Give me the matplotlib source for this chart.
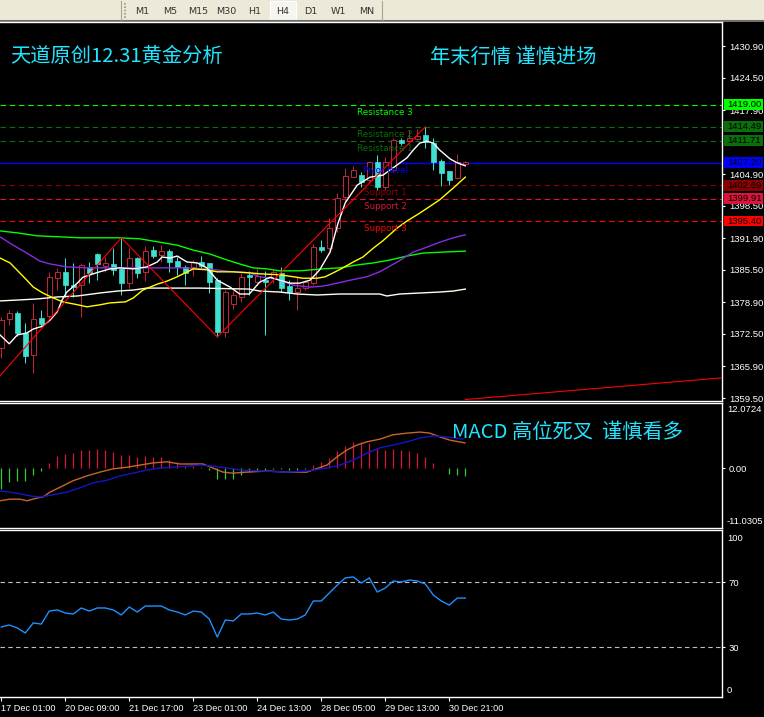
import matplotlib
matplotlib.use('Agg')
import matplotlib.pyplot as plt
from matplotlib.patches import Rectangle
from matplotlib.transforms import blended_transform_factory as btf

# ---------------- data ----------------
opens = [1369.6, 1375.5, 1376.7, 1372.7, 1368.2, 1375.7, 1376.1, 1383.8, 1385.1, 1382.4,
         1382.4, 1386.1, 1388.7, 1386.3, 1386.7, 1385.7, 1382.8, 1387.9, 1385.1, 1389.5,
         1388.5, 1389.3, 1387.3, 1386.1, 1386.1, 1387.1, 1386.9, 1383.4, 1372.9, 1378.6,
         1380.0, 1384.5, 1383.0, 1383.4, 1383.8, 1384.9, 1382.2, 1381.0, 1381.8, 1382.8,
         1390.1, 1389.9, 1394.0, 1400.3, 1404.3, 1404.7, 1403.7, 1407.4, 1402.3, 1405.7,
         1411.8, 1411.6, 1412.0, 1412.8, 1411.2, 1407.6, 1405.5, 1404.1, 1407.0]
highs = [1375.9, 1377.3, 1377.1, 1374.7, 1378.8, 1377.3, 1385.1, 1385.9, 1387.9, 1386.9,
         1386.9, 1387.1, 1388.9, 1388.1, 1390.0, 1392.0, 1390.0, 1388.1, 1390.3, 1390.3,
         1390.5, 1389.7, 1388.1, 1386.5, 1387.5, 1388.3, 1386.9, 1383.8, 1381.4, 1381.2,
         1384.9, 1385.3, 1385.9, 1385.3, 1385.5, 1386.1, 1383.4, 1384.0, 1383.4, 1390.7,
         1391.6, 1396.0, 1401.1, 1406.2, 1406.6, 1405.3, 1407.6, 1408.8, 1408.4, 1412.2,
         1412.2, 1413.9, 1414.1, 1414.5, 1412.2, 1408.0, 1405.5, 1409.0, 1407.6]
lows = [1367.6, 1374.3, 1372.1, 1366.6, 1364.6, 1373.9, 1375.7, 1381.4, 1380.0, 1380.0,
        1375.9, 1382.8, 1383.4, 1385.1, 1384.5, 1380.4, 1381.8, 1383.8, 1383.2, 1387.9,
        1387.1, 1385.1, 1384.5, 1382.4, 1384.3, 1385.9, 1380.8, 1371.9, 1371.9, 1377.6,
        1379.0, 1380.4, 1382.4, 1372.3, 1382.8, 1381.0, 1379.4, 1377.3, 1381.4, 1382.4,
        1389.1, 1389.5, 1393.2, 1399.3, 1404.3, 1402.3, 1403.1, 1401.7, 1401.7, 1405.3,
        1410.8, 1411.2, 1411.8, 1410.2, 1405.7, 1402.5, 1402.7, 1403.9, 1406.8]
closes = [1375.3, 1376.7, 1372.7, 1368.0, 1375.5, 1374.5, 1384.0, 1385.1, 1382.4, 1382.0,
          1386.5, 1384.9, 1386.7, 1386.9, 1385.5, 1382.8, 1387.9, 1384.9, 1389.3, 1388.3,
          1389.3, 1387.1, 1386.1, 1384.9, 1387.1, 1386.3, 1383.0, 1372.9, 1381.0, 1380.4,
          1384.0, 1384.0, 1384.3, 1383.0, 1385.1, 1381.8, 1381.0, 1381.8, 1383.0, 1390.1,
          1389.5, 1394.0, 1400.1, 1404.5, 1405.7, 1403.3, 1407.4, 1402.3, 1407.4, 1411.8,
          1411.2, 1412.2, 1412.6, 1411.4, 1407.4, 1405.1, 1403.7, 1407.4, 1407.4]

# moving averages (bar position, price)
ma_fast_bars = [-0.16, 1.0, 2.0, 3.2, 4.0, 5.2, 6.1, 7.0, 7.6, 8.2, 9.5, 10.2, 11.5, 12.3, 13.6,
                14.8, 16.5, 18.2, 19.5, 20.1, 21.1, 22.0, 23.2, 24.5, 25.7, 27.0, 28.6, 29.8,
                31.0, 32.3, 33.6, 34.8, 36.1, 37.3, 38.6, 39.8, 41.1, 42.1, 43.0, 44.5, 46.1,
                47.7, 49.5, 50.7, 51.5, 52.3, 53.2, 54.0, 54.8, 56.1, 57.0, 58.0]
ma_fast = [1372.3, 1370.5, 1372.3, 1372.7, 1373.5, 1374.1, 1375.3, 1377.0, 1379.4, 1381.0,
           1382.8, 1384.0, 1384.7, 1385.1, 1385.7, 1385.9, 1385.7, 1386.1, 1387.1, 1388.1,
           1387.9, 1388.3, 1387.1, 1386.9, 1385.9, 1383.4, 1382.0, 1380.6, 1380.6, 1383.0,
           1384.0, 1383.4, 1382.8, 1382.8, 1383.4, 1385.5, 1389.1, 1395.0, 1399.1, 1402.7,
           1404.3, 1404.7, 1406.8, 1408.2, 1409.8, 1411.2, 1411.6, 1411.2, 1409.8, 1408.0,
           1407.2, 1406.6]
ma_yellow_bars = [-0.16, 1.1, 2.3, 3.2, 4.0, 5.2, 6.5, 7.7, 9.6, 10.7, 12.3, 13.6, 15.5, 16.5,
                  17.7, 19.5, 20.7, 22.0, 23.0, 24.0, 25.7, 27.0, 29.0, 31.0, 32.3, 34.8, 36.5,
                  37.7, 39.5, 40.5, 41.5, 42.7, 44.0, 45.2, 46.5, 47.7, 49.5, 50.7, 52.3, 54.8,
                  56.5, 58.0]
ma_yellow = [1387.9, 1386.9, 1384.9, 1383.4, 1382.0, 1380.8, 1379.8, 1379.0, 1378.4, 1378.0,
             1378.4, 1378.8, 1379.0, 1379.8, 1381.4, 1382.6, 1383.2, 1384.1, 1384.9, 1385.7,
             1385.5, 1385.1, 1385.1, 1384.9, 1384.7, 1384.5, 1384.1, 1383.8, 1383.8, 1384.1,
             1384.9, 1385.9, 1387.1, 1388.1, 1389.9, 1391.4, 1394.0, 1395.4, 1397.0, 1399.7,
             1402.1, 1404.3]
ma_purple_bars = [-0.16, 1.5, 3.2, 4.8, 6.1, 8.2, 10.7, 14.5, 18.6, 22.7, 25.7, 29.0, 31.0,
                  32.3, 34.5, 36.5, 38.6, 40.2, 42.0, 43.6, 45.7, 47.3, 49.5, 51.5, 53.2, 54.8,
                  56.5, 58.0]
ma_purple = [1392.2, 1390.5, 1388.9, 1387.3, 1386.7, 1386.1, 1385.9, 1385.9, 1385.9, 1385.9,
             1385.7, 1385.1, 1384.9, 1384.1, 1383.6, 1382.4, 1382.0, 1382.2, 1382.8, 1383.4,
             1384.1, 1385.1, 1387.1, 1389.1, 1390.1, 1391.1, 1392.0, 1392.6]
ma_green_bars = [-0.16, 2.0, 4.5, 7.3, 9.8, 14.8, 17.3, 19.5, 22.0, 24.0, 26.1, 28.2, 29.8,
                 31.5, 33.2, 34.8, 37.3, 40.2, 42.3, 44.5, 46.5, 48.6, 50.7, 52.7, 55.2, 58.0]
ma_green = [1393.4, 1393.0, 1392.4, 1392.2, 1392.0, 1392.0, 1391.8, 1391.2, 1390.5, 1389.5,
            1388.7, 1387.5, 1386.7, 1385.9, 1385.7, 1385.3, 1385.3, 1385.7, 1385.9, 1386.5,
            1386.9, 1387.5, 1388.3, 1388.9, 1389.1, 1389.3]
ma_slow_bars = [-0.16, 2.3, 4.5, 7.0, 9.5, 12.3, 14.5, 16.5, 18.2, 24.8, 31.0, 32.3, 34.8, 37.0,
                39.5, 42.3, 47.3, 48.2, 49.8, 52.3, 54.8, 56.5, 58.0]
ma_slow = [1379.2, 1379.4, 1379.6, 1380.0, 1380.2, 1380.8, 1381.2, 1381.4, 1381.8, 1381.8,
           1381.6, 1381.2, 1381.0, 1380.6, 1380.4, 1380.6, 1380.6, 1380.2, 1380.6, 1380.8,
           1381.0, 1381.2, 1381.6]

zigzag_bars = [-2, 15, 27, 53]
zigzag_vals = [1360.6, 1392.0, 1371.9, 1414.5]
trend_bars = [58, 90.1]
trend_vals = [1359.2, 1363.6]

level_names = ['Resistance 3', 'Resistance 2', 'Resistance 1', 'Pivot level',
               'Support 1', 'Support 2', 'Support 3']
level_vals = [1419.00, 1414.49, 1411.71, 1407.20, 1402.69, 1399.91, 1395.40]
level_colors = ['#00FF00', '#0A6E0A', '#0A6E0A', '#0000FF', '#8B0000', '#DC143C', '#FF0000']
price_ticks = [1430.90, 1424.50, 1417.90, 1404.90, 1398.50, 1391.90,
               1385.50, 1378.90, 1372.50, 1365.90, 1359.50]

macd_hist = [-3.9, -2.6, -2.4, -2.4, -1.3, -0.56, 0.93, 2.2, 2.6, 2.8,
             3.35, 3.35, 3.5, 3.35, 3.0, 2.4, 2.4, 2.05, 2.2, 2.05,
             2.05, 1.5, 1.1, 0.37, 0.37, 0.2, -0.37, -1.9, -1.9, -1.9,
             -1.3, -0.75, -0.45, -0.4, -0.2, -0.2, -0.4, -0.4, -0.2, 0.56,
             1.1, 1.9, 3.2, 4.1, 4.8, 4.8, 4.65, 3.7, 3.35, 3.5,
             3.35, 3.2, 2.8, 2.05, 0.93, 0.0, -1.1, -1.3, -1.5]
macd_main_bars = [-0.16, 1.09, 2.34, 3.21, 4.46, 5.21, 6.09, 7.34, 8.96, 10.71, 12.34, 13.96,
                  15.71, 17.34, 18.96, 20.71, 22.34, 23.96, 25.21, 26.46, 27.71, 28.96, 30.71,
                  33.21, 35.71, 38.21, 38.96, 40.71, 41.96, 43.21, 44.46, 45.71, 47.34, 48.96,
                  50.71, 52.34, 53.59, 54.84, 56.09, 57.96]
macd_main = [-6.0, -5.7, -5.7, -6.0, -5.5, -5.3, -4.4, -3.5, -2.3, -1.4, -0.7, -0.1,
             0.2, 0.6, 1.0, 1.2, 0.8, 0.8, 0.8, 0.05, -0.7, -0.9, -0.7,
             -0.5, -0.7, -0.7, -0.3, 0.6, 2.1, 3.4, 4.3, 4.9, 5.4, 6.2,
             6.5, 6.7, 6.5, 5.8, 5.2, 4.7]
macd_sig_bars = [-0.16, 1.09, 2.34, 3.59, 4.84, 6.46, 8.21, 9.84, 11.46, 13.21, 14.84, 16.46,
                 18.21, 19.84, 21.46, 23.21, 24.84, 26.46, 28.21, 29.84, 32.34, 35.71, 38.21,
                 40.71, 42.34, 43.96, 45.71, 47.34, 48.96, 50.71, 52.34, 53.96, 55.71, 57.71]
macd_sig = [-4.2, -4.4, -4.7, -5.1, -5.3, -4.9, -4.4, -3.6, -2.7, -2.2, -1.4, -0.9,
            -0.3, 0.05, 0.2, 0.4, 0.6, 0.4, 0.05, -0.3, -0.5, -0.7, -0.5,
            0.05, 0.6, 1.5, 2.8, 3.8, 4.3, 4.9, 5.6, 6.0, 5.8, 5.4]

rsi = [42.5, 43.7, 41.9, 38.8, 45.0, 44.3, 52.3, 53.0, 51.1, 50.5,
       54.2, 52.3, 54.2, 54.2, 53.0, 49.9, 54.8, 51.7, 55.4, 55.4,
       55.4, 53.0, 51.7, 49.9, 52.3, 51.7, 47.4, 36.3, 46.8, 46.2,
       50.5, 50.5, 51.1, 49.9, 51.7, 47.4, 46.8, 47.4, 49.9, 58.5,
       58.5, 63.4, 68.3, 72.7, 73.3, 69.6, 72.7, 64.0, 66.5, 70.8,
       70.2, 71.4, 70.8, 69.0, 62.2, 58.5, 56.0, 60.3, 60.3]

date_labels = ['17 Dec 01:00', '20 Dec 09:00', '21 Dec 17:00', '23 Dec 01:00',
               '24 Dec 13:00', '28 Dec 05:00', '29 Dec 13:00', '30 Dec 21:00']
timeframes = ['M1', 'M5', 'M15', 'M30', 'H1', 'H4', 'D1', 'W1', 'MN']

title_left = '天道原创12.31黄金分析'
title_right = '年末行情 谨慎进场'
macd_note = 'MACD 高位死叉  谨慎看多'

# ---------------- layout helpers ----------------
W, H = 764, 717
fig = plt.figure(figsize=(W / 100, H / 100), dpi=100, facecolor='black')
CJK = ['Noto Sans CJK SC', 'DejaVu Sans']
NUMF = 'Liberation Sans'
TXTC = '#22E4FF'


def rect(x0, y0, x1, y1):
    return [x0 / W, 1 - y1 / H, (x1 - x0) / W, (y1 - y0) / H]


XMIN, XMAX = -0.16, 90.09


def style_panel(a):
    a.set_facecolor('black')
    a.set_xlim(XMIN, XMAX)
    a.spines['left'].set_visible(False)
    for s in ['top', 'bottom', 'right']:
        a.spines[s].set_color('white')
        a.spines[s].set_linewidth(1.0)
    a.set_xticks([])
    a.yaxis.tick_right()
    a.tick_params(axis='y', colors='white', length=2.5, width=0.8, pad=2.5,
                  labelsize=6.8, labelcolor='white')


# ---------------- toolbar ----------------
tb = fig.add_axes(rect(0, 0, W, 22))
tb.set_xlim(0, W)
tb.set_ylim(22, 0)
tb.axis('off')
tb.add_patch(Rectangle((0, 0), W, 22, facecolor='#ECE9D8', edgecolor='none'))
tb.plot([0, W], [21.3, 21.3], color='#6E6E6E', lw=1.5)
tb.plot([121, 121], [1, 20], color='#A8A595', lw=0.8)
tb.plot([382, 382], [1, 20], color='#A8A595', lw=0.8)
tb.plot([125, 125], [3, 18], color='#9A9784', lw=1.2, ls=(0, (1, 1)))
tb.add_patch(Rectangle((270, 1), 26, 19, facecolor='#F6F5EF', edgecolor='white', lw=0.8))
for i, lab in enumerate(timeframes):
    tb.text(142 + 28.05 * i, 11.5, lab, ha='center', va='center', fontsize=6.8,
            color='#333333', family='DejaVu Sans')

# ---------------- main price panel ----------------
ax = fig.add_axes(rect(0, 22, 722, 401))
style_panel(ax)
ax.set_ylim(1358.9, 1435.77)
ax.set_yticks(price_ticks)
ax.set_yticklabels(['%.2f' % v for v in price_ticks], fontfamily=NUMF)

UP = '#B8283A'
DN = '#40E0D0'
bw = 0.62
for i in range(len(opens)):
    o, h, l, c = opens[i], highs[i], lows[i], closes[i]
    if c >= o:
        ax.plot([i, i], [l, h], color=UP, lw=0.75, zorder=3, solid_capstyle='butt')
        ax.add_patch(Rectangle((i - bw / 2, o), bw, max(c - o, 0.15), facecolor='black',
                               edgecolor=UP, lw=0.75, zorder=3.1))
    else:
        ax.plot([i, i], [l, h], color=DN, lw=0.75, zorder=3, solid_capstyle='butt')
        ax.add_patch(Rectangle((i - bw / 2, c), bw, max(o - c, 0.15), facecolor=DN,
                               edgecolor=DN, lw=0.5, zorder=3.1))

ax.plot(ma_slow_bars, ma_slow, color='#FFFFF0', lw=1.0, zorder=4)
ax.plot(ma_green_bars, ma_green, color='#00FF00', lw=1.0, zorder=4)
ax.plot(ma_purple_bars, ma_purple, color='#8A2BE2', lw=1.0, zorder=4)
ax.plot(ma_yellow_bars, ma_yellow, color='#FFFF00', lw=1.0, zorder=4)
ax.plot(ma_fast_bars, ma_fast, color='white', lw=1.0, zorder=4)
ax.plot(zigzag_bars, zigzag_vals, color='#FF0000', lw=0.8, zorder=4)
ax.plot(trend_bars, trend_vals, color='#FF0000', lw=0.8, zorder=4)

ytr = btf(ax.transAxes, ax.transData)
for name, v, col in zip(level_names, level_vals, level_colors):
    if name == 'Pivot level':
        ax.axhline(v, color=col, lw=1.0, zorder=2)
    else:
        ax.axhline(v, color=col, lw=0.8, ls=(0, (5, 3.3)), zorder=2)
    ax.annotate(name, xy=(48, v), xytext=(0, -2.2), textcoords='offset points',
                ha='center', va='top', fontsize=6.3, color=col, family='DejaVu Sans', zorder=5)
    ax.add_patch(Rectangle((723.5 / 722, v - 1.1), 40 / 722, 2.2, transform=ytr,
                           facecolor=col, edgecolor='none', clip_on=False, zorder=10))
    ax.text(727 / 722, v, '%.2f' % v, transform=ytr, ha='left', va='center', fontsize=6.8,
            family=NUMF, color='black', clip_on=False, zorder=11)

fig.text(10 / W, 1 - 57 / H, title_left, ha='left', va='center', fontsize=14.6,
         color=TXTC, family=CJK)
fig.text(430 / W, 1 - 57 / H, title_right, ha='left', va='center', fontsize=14.6,
         color=TXTC, family=CJK)

# ---------------- MACD panel ----------------
am = fig.add_axes(rect(0, 403, 722, 528))
style_panel(am)
am.set_ylim(-11.0305, 12.0724)
am.set_yticks([0.0])
am.set_yticklabels(['0.00'], fontfamily=NUMF)
xb = list(range(len(macd_hist)))
cols = ['#DC143C' if v > 0 else '#32CD32' for v in macd_hist]
am.vlines(xb, 0, macd_hist, colors=cols, lw=0.9, zorder=3)
am.plot(macd_main_bars, macd_main, color='#C8642D', lw=1.0, zorder=4)
am.plot(macd_sig_bars, macd_sig, color='#1515C8', lw=1.0, zorder=4)
mtr = am.transAxes
am.text(727 / 722, 0.985, '12.0724', transform=mtr, ha='left', va='top', fontsize=6.8,
        family=NUMF, color='white', clip_on=False)
am.text(727 / 722, 0.02, '-11.0305', transform=mtr, ha='left', va='bottom', fontsize=6.8,
        family=NUMF, color='white', clip_on=False)
fig.text(452 / W, 1 - 432 / H, macd_note, ha='left', va='center', fontsize=14.6,
         color=TXTC, family=CJK)

# ---------------- RSI panel ----------------
ar = fig.add_axes(rect(0, 530, 722, 697))
style_panel(ar)
ar.set_ylim(-0.6, 102.2)
ar.set_yticks([70, 30])
ar.set_yticklabels(['70', '30'], fontfamily=NUMF)
ar.axhline(70, color='#C0C0C0', lw=0.8, ls=(0, (4, 3)), zorder=2)
ar.axhline(30, color='#C0C0C0', lw=0.8, ls=(0, (4, 3)), zorder=2)
ar.plot(range(len(rsi)), rsi, color='#1E90FF', lw=1.0, zorder=4)
rtr = btf(ar.transAxes, ar.transData)
ar.text(727 / 722, 100, '100', transform=rtr, ha='left', va='top', fontsize=6.8,
        family=NUMF, color='white', clip_on=False)
ar.text(727 / 722, 0.5, '0', transform=rtr, ha='left', va='bottom', fontsize=6.8,
        family=NUMF, color='white', clip_on=False)

ar.set_xticks([8 * i for i in range(len(date_labels))])
ar.set_xticklabels(date_labels, ha='left', fontfamily=NUMF)
ar.tick_params(axis='x', colors='white', length=3, width=0.8, pad=2, labelsize=6.6,
               labelcolor='white', direction='out')

fig.savefig('out.png', dpi=100, facecolor='black')
